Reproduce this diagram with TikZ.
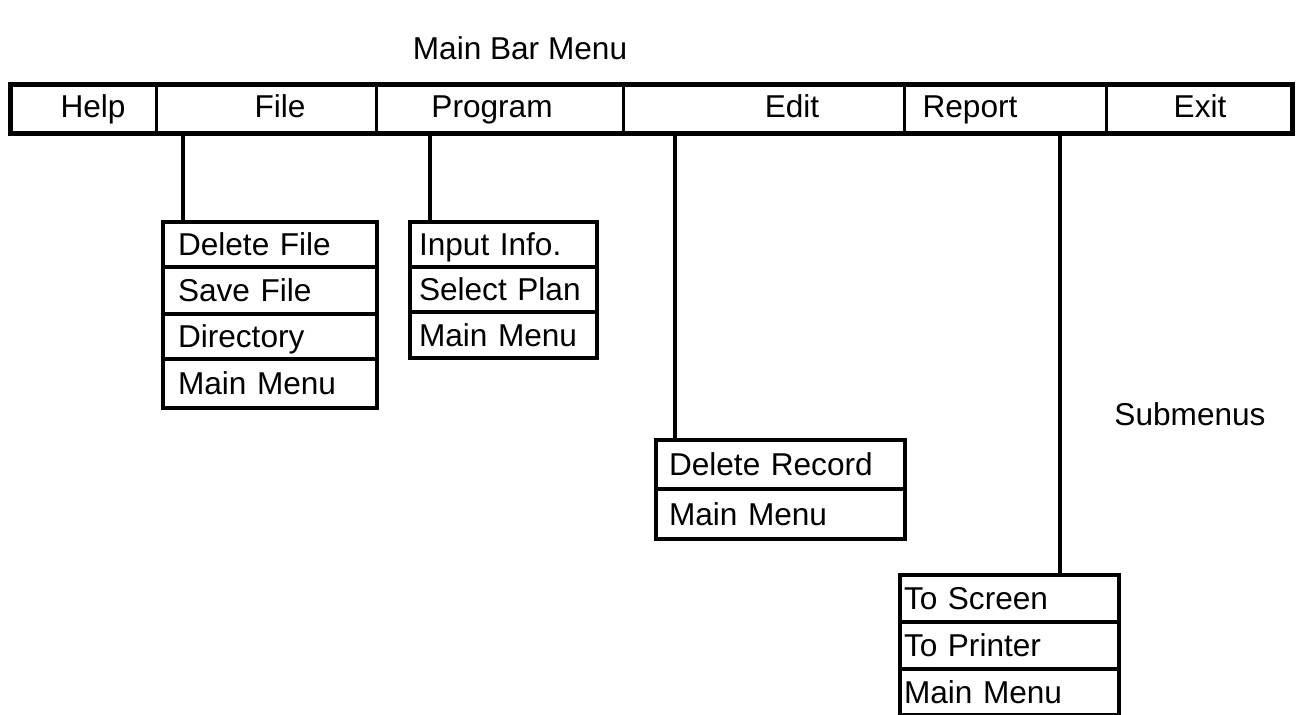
\documentclass[tikz,border=0pt]{standalone}
\usepackage{fontspec}
\setmainfont{Liberation Sans}
\begin{document}
\begin{tikzpicture}[x=0.5pt,y=-0.5pt,
  txt/.style={inner sep=0pt, font=\fontsize{15.8}{19}\selectfont},
  bartxt/.style={txt, anchor=base},
  cell/.style={draw, line width=1.6pt, minimum height=23.5pt, inner sep=0pt, anchor=north west},
  row/.style={draw, line width=1pt, anchor=north west, inner ysep=0pt, align=left,
              text height=11.3pt, text depth=0pt,
              font=\fontsize{15.8}{19}\selectfont},
  frame/.style={line width=2pt},
  conn/.style={line width=2pt}]
\useasboundingbox (0,0) rectangle (1305,715);
% title
\node[bartxt] (title) at (520,60) {Main Bar Menu};
% main bar cells
\node[cell, minimum width=72.5pt]  (help) at (10,84) {};
\node[cell, minimum width=110pt]   (file) at (155,84) {};
\node[cell, minimum width=123.5pt] (prog) at (375,84) {};
\node[cell, minimum width=140.5pt] (edit) at (622,84) {};
\node[cell, minimum width=101pt]   (rep)  at (903,84) {};
\node[cell, minimum width=92.5pt]  (exit) at (1105,84) {};
\draw[frame] (help.north west) rectangle (exit.south east);
\node[bartxt] (thelp) at (93,118)  {Help};
\node[bartxt] (tfile) at (280,118) {File};
\node[bartxt] (tprog) at (492,118) {Program};
\node[bartxt] (tedit) at (792,118) {Edit};
\node[bartxt] (trep)  at (970,118) {Report};
\node[bartxt] (texit) at (1200,118) {Exit};
% File submenu
\node[row, minimum height=21.5pt, text width=92pt, inner xsep=7pt] (f1) at (163,222) {Delete File};
\node[row, minimum height=22.5pt, text width=92pt, inner xsep=7pt] (f2) at (f1.south west) {Save File};
\node[row, minimum height=21.5pt, text width=92pt, inner xsep=7pt] (f3) at (f2.south west) {Directory};
\node[row, minimum height=23.5pt, text width=92pt, inner xsep=7pt] (f4) at (f3.south west) {Main Menu};
\draw[frame] (f1.north west) rectangle (f4.south east);
% Program submenu
\node[row, minimum height=21.5pt, text width=84.5pt, inner xsep=4pt] (p1) at (410,222) {Input Info.};
\node[row, minimum height=21.5pt, text width=84.5pt, inner xsep=4pt] (p2) at (p1.south west) {Select Plan};
\node[row, minimum height=22pt, text width=84.5pt, inner xsep=4pt] (p3) at (p2.south west) {Main Menu};
\draw[frame] (p1.north west) rectangle (p3.south east);
% Edit submenu
\node[row, minimum height=23.5pt, text width=111.5pt, inner xsep=6pt] (e1) at (656,440) {Delete Record};
\node[row, minimum height=24pt, text width=111.5pt, inner xsep=6pt] (e2) at (e1.south west) {Main Menu};
\draw[frame] (e1.north west) rectangle (e2.south east);
% Report submenu
\node[row, minimum height=22.5pt, text width=105.5pt, inner xsep=1.5pt] (r1) at (900,575) {To Screen};
\node[row, minimum height=22.5pt, text width=105.5pt, inner xsep=1.5pt] (r2) at (r1.south west) {To Printer};
\node[row, minimum height=22pt, text width=105.5pt, inner xsep=1.5pt] (r3) at (r2.south west) {Main Menu};
\draw[frame] (r1.north west) rectangle (r3.south east);
% label
\node[bartxt] (sub) at (1190,426) {Submenus};
% connectors
\coordinate (cf) at (183,222);
\coordinate (cp) at (430,222);
\coordinate (ce) at (675,440);
\coordinate (cr) at (1060,575);
\draw[conn] (cf |- file.south) -- (cf);
\draw[conn] (cp |- prog.south) -- (cp);
\draw[conn] (ce |- edit.south) -- (ce);
\draw[conn] (cr |- rep.south) -- (cr);
\end{tikzpicture}
\end{document}
